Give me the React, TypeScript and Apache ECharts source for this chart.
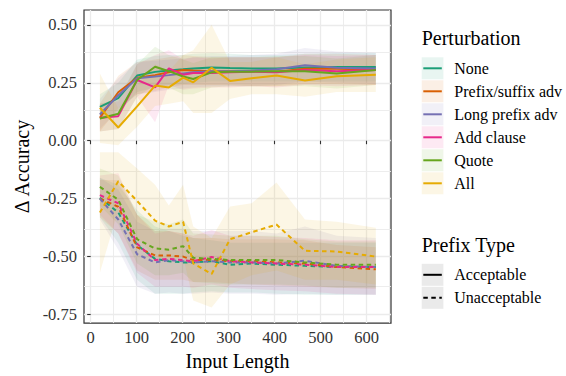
import React, { useEffect, useRef } from "react";
import * as echarts from "echarts";

// Binned input lengths (x positions of every line and ribbon vertex)
const INPUT_LENGTH = [20, 60, 101, 140, 170, 201, 223, 263, 303, 350, 404, 466, 535, 620];

const PERTURBATIONS = ["None", "Prefix/suffix adv", "Long prefix adv", "Add clause", "Quote", "All"];
const COLORS = ["#1B9E77", "#D95F02", "#7570B3", "#E7298A", "#66A61E", "#E6AB02"];
const PREFIX_TYPES = ["Acceptable", "Unacceptable"];

const X_TICKS = [0, 100, 200, 300, 400, 500, 600];
const X_MINOR = [50, 150, 250, 350, 450, 550, 650];
const Y_TICKS = [-0.75, -0.5, -0.25, 0, 0.25, 0.5];
const Y_MINOR = [-0.625, -0.375, -0.125, 0.125, 0.375];

// Acceptable prefixes: mean delta accuracy and ribbon bounds
const ACC_NONE = [0.146, 0.184, 0.281, 0.297, 0.303, 0.308, 0.312, 0.316, 0.314, 0.312, 0.312, 0.316, 0.318, 0.318];
const ACC_NONE_LO = [0.09, 0.12, 0.21, 0.23, 0.24, 0.245, 0.25, 0.255, 0.255, 0.255, 0.255, 0.255, 0.255, 0.255];
const ACC_NONE_HI = [0.2, 0.25, 0.35, 0.365, 0.37, 0.37, 0.375, 0.378, 0.375, 0.37, 0.37, 0.375, 0.378, 0.378];

const ACC_PREFIX = [0.099, 0.209, 0.272, 0.283, 0.295, 0.305, 0.303, 0.3, 0.3, 0.3, 0.298, 0.31, 0.31, 0.307];
const ACC_PREFIX_LO = [0.04, 0.14, 0.2, 0.215, 0.23, 0.24, 0.24, 0.24, 0.24, 0.235, 0.235, 0.245, 0.245, 0.24];
const ACC_PREFIX_HI = [0.16, 0.28, 0.34, 0.35, 0.36, 0.37, 0.365, 0.36, 0.36, 0.36, 0.36, 0.375, 0.375, 0.37];

const ACC_LONG = [0.113, 0.196, 0.27, 0.277, 0.283, 0.29, 0.295, 0.3, 0.3, 0.302, 0.308, 0.326, 0.315, 0.312];
const ACC_LONG_LO = [0.05, 0.13, 0.2, 0.21, 0.22, 0.225, 0.23, 0.235, 0.235, 0.235, 0.24, 0.255, 0.25, 0.245];
const ACC_LONG_HI = [0.18, 0.27, 0.34, 0.345, 0.35, 0.355, 0.36, 0.365, 0.365, 0.37, 0.375, 0.4, 0.385, 0.38];

const ACC_CLAUSE = [0.099, 0.106, 0.262, 0.23, 0.312, 0.285, 0.292, 0.292, 0.295, 0.298, 0.295, 0.305, 0.3, 0.305];
const ACC_CLAUSE_LO = [0.04, 0.05, 0.19, 0.08, 0.24, 0.22, 0.225, 0.23, 0.23, 0.235, 0.23, 0.24, 0.235, 0.24];
const ACC_CLAUSE_HI = [0.16, 0.17, 0.33, 0.37, 0.39, 0.35, 0.36, 0.355, 0.36, 0.36, 0.36, 0.37, 0.365, 0.37];

const ACC_QUOTE = [0.096, 0.116, 0.262, 0.319, 0.3, 0.277, 0.266, 0.295, 0.298, 0.298, 0.3, 0.3, 0.29, 0.305];
const ACC_QUOTE_LO = [0.04, 0.05, 0.19, 0.24, 0.23, 0.2, 0.2, 0.23, 0.235, 0.235, 0.235, 0.235, 0.225, 0.24];
const ACC_QUOTE_HI = [0.16, 0.18, 0.33, 0.405, 0.37, 0.35, 0.335, 0.36, 0.36, 0.36, 0.365, 0.365, 0.355, 0.37];

const ACC_ALL = [0.142, 0.057, 0.148, 0.238, 0.23, 0.272, 0.252, 0.315, 0.258, 0.27, 0.281, 0.26, 0.278, 0.285];
const ACC_ALL_LO = [-0.01, -0.02, 0.06, 0.15, 0.16, 0.17, 0.12, 0.12, 0.18, 0.2, 0.2, 0.19, 0.21, 0.21];
const ACC_ALL_HI = [0.29, 0.14, 0.24, 0.33, 0.3, 0.37, 0.39, 0.5, 0.34, 0.34, 0.36, 0.33, 0.35, 0.36];

// Unacceptable prefixes: mean delta accuracy and ribbon bounds
const UNACC_NONE = [-0.246, -0.31, -0.45, -0.51, -0.52, -0.525, -0.525, -0.52, -0.535, -0.53, -0.535, -0.54, -0.545, -0.545];
const UNACC_NONE_LO = [-0.33, -0.44, -0.6, -0.66, -0.66, -0.66, -0.655, -0.65, -0.655, -0.655, -0.66, -0.665, -0.665, -0.665];
const UNACC_NONE_HI = [-0.16, -0.19, -0.3, -0.37, -0.39, -0.41, -0.42, -0.43, -0.44, -0.44, -0.44, -0.44, -0.44, -0.44];

const UNACC_PREFIX = [-0.25, -0.285, -0.46, -0.495, -0.495, -0.5, -0.515, -0.515, -0.52, -0.52, -0.525, -0.53, -0.545, -0.555];
const UNACC_PREFIX_LO = [-0.33, -0.4, -0.56, -0.6, -0.6, -0.6, -0.61, -0.61, -0.615, -0.62, -0.625, -0.63, -0.635, -0.64];
const UNACC_PREFIX_HI = [-0.17, -0.17, -0.32, -0.39, -0.39, -0.4, -0.42, -0.42, -0.425, -0.425, -0.425, -0.43, -0.45, -0.46];

const UNACC_LONG = [-0.25, -0.34, -0.49, -0.525, -0.515, -0.52, -0.525, -0.52, -0.525, -0.525, -0.53, -0.518, -0.54, -0.545];
const UNACC_LONG_LO = [-0.34, -0.47, -0.63, -0.66, -0.655, -0.66, -0.66, -0.655, -0.66, -0.66, -0.665, -0.66, -0.665, -0.665];
const UNACC_LONG_HI = [-0.16, -0.21, -0.35, -0.39, -0.38, -0.38, -0.39, -0.39, -0.39, -0.39, -0.4, -0.37, -0.41, -0.42];

const UNACC_CLAUSE = [-0.235, -0.27, -0.445, -0.515, -0.51, -0.515, -0.52, -0.502, -0.52, -0.525, -0.53, -0.535, -0.545, -0.545];
const UNACC_CLAUSE_LO = [-0.32, -0.4, -0.57, -0.63, -0.63, -0.63, -0.635, -0.62, -0.635, -0.64, -0.645, -0.65, -0.66, -0.665];
const UNACC_CLAUSE_HI = [-0.15, -0.14, -0.32, -0.4, -0.39, -0.4, -0.41, -0.385, -0.41, -0.41, -0.415, -0.42, -0.43, -0.43];

const UNACC_QUOTE = [-0.199, -0.255, -0.425, -0.465, -0.47, -0.455, -0.505, -0.51, -0.515, -0.515, -0.515, -0.525, -0.535, -0.535];
const UNACC_QUOTE_LO = [-0.28, -0.36, -0.53, -0.58, -0.58, -0.57, -0.61, -0.615, -0.62, -0.62, -0.62, -0.625, -0.635, -0.635];
const UNACC_QUOTE_HI = [-0.12, -0.15, -0.32, -0.35, -0.36, -0.34, -0.4, -0.405, -0.41, -0.41, -0.41, -0.425, -0.435, -0.435];

const UNACC_ALL = [-0.31, -0.175, -0.26, -0.345, -0.37, -0.35, -0.53, -0.575, -0.425, -0.395, -0.362, -0.475, -0.478, -0.5];
const UNACC_ALL_LO = [-0.57, -0.3, -0.42, -0.5, -0.52, -0.5, -0.69, -0.72, -0.62, -0.58, -0.56, -0.6, -0.6, -0.62];
const UNACC_ALL_HI = [-0.05, -0.05, -0.12, -0.19, -0.28, -0.19, -0.37, -0.42, -0.284, -0.27, -0.18, -0.34, -0.35, -0.376];

const ACCEPTABLE = [
  [ACC_NONE, ACC_NONE_LO, ACC_NONE_HI],
  [ACC_PREFIX, ACC_PREFIX_LO, ACC_PREFIX_HI],
  [ACC_LONG, ACC_LONG_LO, ACC_LONG_HI],
  [ACC_CLAUSE, ACC_CLAUSE_LO, ACC_CLAUSE_HI],
  [ACC_QUOTE, ACC_QUOTE_LO, ACC_QUOTE_HI],
  [ACC_ALL, ACC_ALL_LO, ACC_ALL_HI],
];
const UNACCEPTABLE = [
  [UNACC_NONE, UNACC_NONE_LO, UNACC_NONE_HI],
  [UNACC_PREFIX, UNACC_PREFIX_LO, UNACC_PREFIX_HI],
  [UNACC_LONG, UNACC_LONG_LO, UNACC_LONG_HI],
  [UNACC_CLAUSE, UNACC_CLAUSE_LO, UNACC_CLAUSE_HI],
  [UNACC_QUOTE, UNACC_QUOTE_LO, UNACC_QUOTE_HI],
  [UNACC_ALL, UNACC_ALL_LO, UNACC_ALL_HI],
];

const FONT = "'Liberation Serif', 'DejaVu Serif', serif";
const DASH = [4.5, 3.5];
const RIBBON_ALPHA = 0.1;

function rgba(hex: string, a: number) {
  const n = parseInt(hex.slice(1), 16);
  return `rgba(${(n >> 16) & 255},${(n >> 8) & 255},${n & 255},${a})`;
}

function ribbonSeries(name: string, color: string, lo: number[], hi: number[]) {
  const data = INPUT_LENGTH.map((x, i) => [x, lo[i], hi[i]]);
  return {
    type: "custom",
    name,
    z: 1,
    silent: true,
    encode: { x: 0, y: [1, 2] },
    data,
    renderItem: (params: any, api: any) => {
      if (params.dataIndex !== 0) return null;
      const upper = data.map((d) => api.coord([d[0], d[2]]));
      const lower = data.map((d) => api.coord([d[0], d[1]])).reverse();
      return {
        type: "polygon",
        shape: { points: upper.concat(lower) },
        style: { fill: rgba(color, RIBBON_ALPHA), stroke: "none" },
      };
    },
  };
}

function lineSeries(name: string, color: string, values: number[], dashed: boolean) {
  return {
    type: "line",
    name,
    z: 3,
    silent: true,
    symbol: "none",
    data: INPUT_LENGTH.map((x, i) => [x, values[i]]),
    lineStyle: { color, width: 2, type: dashed ? DASH : "solid", cap: "butt" },
  };
}

function buildOption() {
  const series: any[] = [];

  // Panel grid lines, drawn underneath everything else
  const gridLines = [
    ...X_TICKS.map((v) => ({ xAxis: v, lineStyle: { width: 1.3 } })),
    ...X_MINOR.map((v) => ({ xAxis: v, lineStyle: { width: 0.9 } })),
    ...Y_TICKS.map((v) => ({ yAxis: v, lineStyle: { width: 1.3 } })),
    ...Y_MINOR.map((v) => ({ yAxis: v, lineStyle: { width: 0.9 } })),
  ];
  series.push({
    type: "line",
    name: "grid",
    z: 0,
    data: [],
    silent: true,
    markLine: {
      z: 0,
      silent: true,
      animation: false,
      symbol: ["none", "none"],
      label: { show: false },
      emphasis: { disabled: true },
      lineStyle: { color: "#EBEBEB", type: "solid" },
      data: gridLines,
    },
  });

  PERTURBATIONS.forEach((p, k) => {
    series.push(ribbonSeries(p + " acceptable band", COLORS[k], ACCEPTABLE[k][1], ACCEPTABLE[k][2]));
    series.push(ribbonSeries(p + " unacceptable band", COLORS[k], UNACCEPTABLE[k][1], UNACCEPTABLE[k][2]));
  });
  PERTURBATIONS.forEach((p, k) => {
    series.push(lineSeries(p + " " + PREFIX_TYPES[0], COLORS[k], ACCEPTABLE[k][0], false));
    series.push(lineSeries(p + " " + PREFIX_TYPES[1], COLORS[k], UNACCEPTABLE[k][0], true));
  });

  // Legend drawn as key boxes in the ggplot style
  const legendX = 421.7;
  const keyW = 21.7;
  const keyH = 22;
  const titleFont = `20px ${FONT}`;
  const itemFont = `16px ${FONT}`;
  const graphics: any[] = [];
  graphics.push({
    type: "text",
    x: legendX,
    y: 38,
    style: { text: "Perturbation", font: titleFont, fill: "#000", verticalAlign: "middle", align: "left" },
  });
  PERTURBATIONS.forEach((p, k) => {
    const cy = 68.3 + 23 * k;
    graphics.push({
      type: "rect",
      shape: { x: legendX, y: cy - keyH / 2, width: keyW, height: keyH },
      style: { fill: rgba(COLORS[k], RIBBON_ALPHA), stroke: "none" },
    });
    graphics.push({
      type: "line",
      shape: { x1: legendX + 1.6, y1: cy, x2: legendX + keyW - 1.6, y2: cy },
      style: { stroke: COLORS[k], lineWidth: 2 },
    });
    graphics.push({
      type: "text",
      x: 454.3,
      y: cy,
      style: { text: p, font: itemFont, fill: "#000", verticalAlign: "middle", align: "left" },
    });
  });
  graphics.push({
    type: "text",
    x: legendX,
    y: 245,
    style: { text: "Prefix Type", font: titleFont, fill: "#000", verticalAlign: "middle", align: "left" },
  });
  PREFIX_TYPES.forEach((t, k) => {
    const cy = 274.8 + 23 * k;
    graphics.push({
      type: "rect",
      shape: { x: legendX, y: cy - keyH / 2, width: keyW, height: keyH },
      style: { fill: rgba("#333333", RIBBON_ALPHA), stroke: "none" },
    });
    graphics.push({
      type: "line",
      shape: { x1: legendX + 1.6, y1: cy, x2: legendX + keyW - 1.6, y2: cy },
      style: { stroke: "#000", lineWidth: 2, lineDash: k === 1 ? DASH : null },
    });
    graphics.push({
      type: "text",
      x: 454.3,
      y: cy,
      style: { text: t, font: itemFont, fill: "#000", verticalAlign: "middle", align: "left" },
    });
  });

  return {
    animation: false,
    backgroundColor: "#fff",
    textStyle: { fontFamily: FONT },
    grid: {
      left: 84,
      right: 175,
      top: 10,
      bottom: 48,
      show: true,
      backgroundColor: "#fff",
      borderColor: "#333",
      borderWidth: 1.2,
      containLabel: false,
    },
    xAxis: {
      type: "value",
      min: -14.5,
      max: 653,
      name: "Input Length",
      nameLocation: "middle",
      nameGap: 26,
      nameTextStyle: { fontFamily: FONT, fontSize: 20, color: "#000" },
      axisLine: { show: false },
      splitLine: { show: false },
      axisTick: { show: true, length: 3.5, inside: false, customValues: X_TICKS, lineStyle: { color: "#333", width: 1.1 } },
      axisLabel: { customValues: X_TICKS, margin: 6, fontFamily: FONT, fontSize: 16.5, color: "#333" },
    },
    yAxis: {
      type: "value",
      min: -0.787,
      max: 0.564,
      name: "\u0394 Accuracy",
      nameLocation: "middle",
      nameRotate: 90,
      nameGap: 50,
      nameTextStyle: { fontFamily: FONT, fontSize: 20, color: "#000" },
      axisLine: { show: false },
      splitLine: { show: false },
      axisTick: { show: true, length: 3.5, inside: false, customValues: Y_TICKS, lineStyle: { color: "#333", width: 1.1 } },
      axisLabel: {
        customValues: Y_TICKS,
        margin: 7,
        fontFamily: FONT,
        fontSize: 16.5,
        color: "#333",
        formatter: (v: number) => v.toFixed(2),
      },
    },
    graphic: graphics,
    series,
  };
}

export default function App() {
  const ref = useRef<HTMLDivElement>(null);
  useEffect(() => {
    if (!ref.current) return;
    const chart = echarts.init(ref.current, undefined, { renderer: "svg" });
    chart.setOption(buildOption() as any);
    return () => chart.dispose();
  }, []);
  return (
    <div
      ref={ref}
      style={{ position: "fixed", left: 0, top: 0, width: 566, height: 376, background: "#fff" }}
    />
  );
}
